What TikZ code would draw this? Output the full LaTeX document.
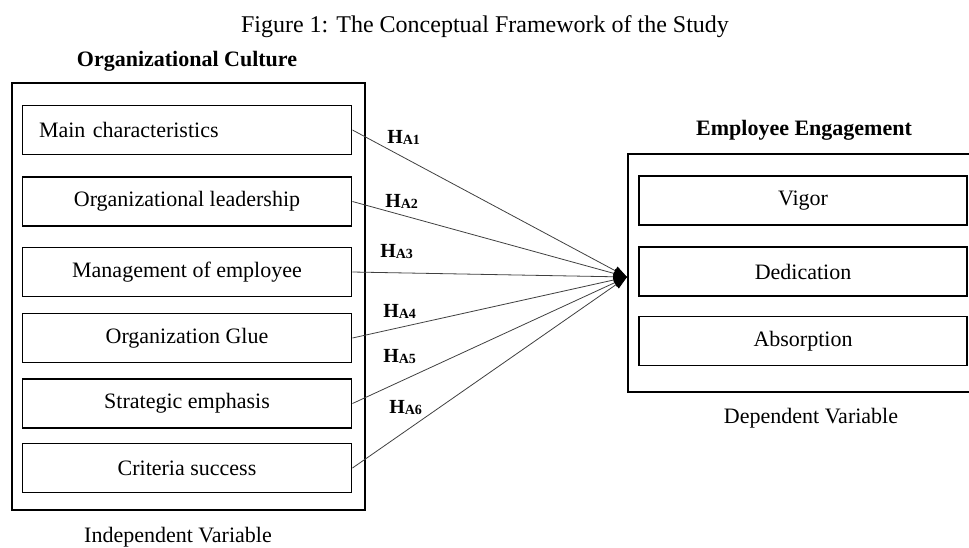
\documentclass[tikz,border=0pt]{standalone}
\usepackage{fontspec}
\setmainfont{Liberation Serif}
\usetikzlibrary{arrows.meta}
\tikzset{item/.style={draw, line width=1.2pt, minimum width=247pt, minimum height=36.75pt, inner sep=0pt, font=\fontsize{16.5}{18}\selectfont}}
\tikzset{head/.style={anchor=base, inner sep=0pt, font=\fontsize{16.5}{18}\selectfont\bfseries}}
\tikzset{note/.style={anchor=base, inner sep=0pt, font=\fontsize{16.5}{18}\selectfont}}
\tikzset{hyp/.style={anchor=base west, inner sep=0pt, font=\fontsize{15}{15}\selectfont\bfseries}}
\tikzset{
link/.style={draw=black!75, line width=0.6pt, -{Triangle[length=10pt,width=7pt,black]}}
}
\newcommand{\hyplabel}[1]{H{\fontsize{10.5}{10.5}\selectfont\raisebox{-1pt}{#1}}}

\begin{document}
\begin{tikzpicture}[x=0.75pt, y=-0.75pt]
    \useasboundingbox (0,0) rectangle (969,547);
    \clip (0,0) rectangle (969,547);
    \node[anchor=base, inner sep=0pt, font=\fontsize{18}{20}\selectfont] (title) at (485,32) {Figure 1: The Conceptual Framework of the Study};
    % independent side
    \node[head] (ocname) at (187,66) {Organizational Culture};
    \draw[line width=1.2pt] (12,83) rectangle (365,510);
    \node[item, text width=222pt, align=left] (char) at (187,130) {Main characteristics};
    \node[item] (lead) at (187,201.5) {Organizational leadership};
    \node[item] (mgmt) at (187,272) {Management of employee};
    \node[item] (glue) at (187,338) {Organization Glue};
    \node[item] (strat) at (187,403.5) {Strategic emphasis};
    \node[item] (crit) at (187,468) {Criteria success};
    \node[note] (indep) at (178,542) {Independent Variable};
    % dependent side
    \node[head] (eename) at (804,135) {Employee Engagement};
    \draw[line width=1.2pt] (628,154) rectangle (990,392);
    \node[item, minimum width=246pt] (vigor) at (803,200.5) {Vigor};
    \node[item, minimum width=246pt] (dedic) at (803,271.5) {Dedication};
    \node[item, minimum width=246pt] (absorp) at (803,341) {Absorption};
    \node[note] (dep) at (811,423) {Dependent Variable};
    % hypotheses
    \coordinate (conv) at (627,277);
    \draw[link] (char.east) -- (conv);
    \draw[link] (lead.east) -- (conv);
    \draw[link] (mgmt.east) -- (conv);
    \draw[link] (glue.east) -- (conv);
    \draw[link] (strat.east) -- (conv);
    \draw[link] (crit.east) -- (conv);
    \node[hyp] (h1) at (387,143) {\hyplabel{A1}};
    \node[hyp] (h2) at (385,207) {\hyplabel{A2}};
    \node[hyp] (h3) at (380,257) {\hyplabel{A3}};
    \node[hyp] (h4) at (383,317) {\hyplabel{A4}};
    \node[hyp] (h5) at (383,362) {\hyplabel{A5}};
    \node[hyp] (h6) at (389,413) {\hyplabel{A6}};
  \end{tikzpicture}
\end{document}
